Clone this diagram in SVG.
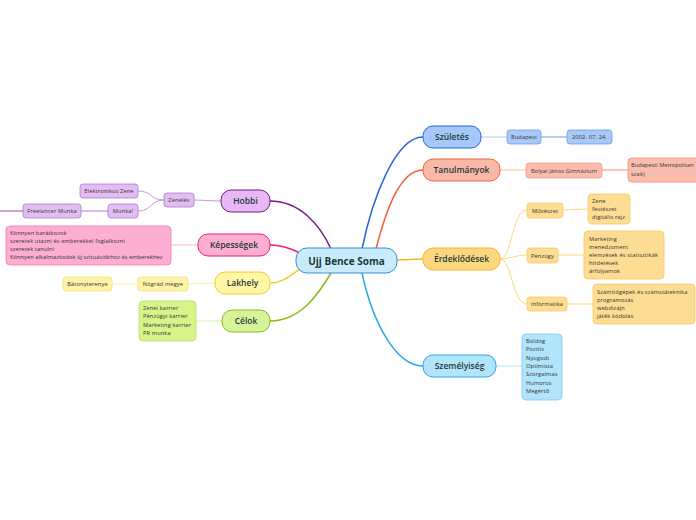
<svg xmlns="http://www.w3.org/2000/svg" width="696" height="520" viewBox="0 0 696 520">
<style>
text{font-family:"Open Sans","Noto Sans","Liberation Sans",sans-serif;}
.main{font-size:8.5px;font-weight:600;fill:#1c3a36;text-anchor:middle;}
.root{font-size:10px;font-weight:700;fill:#1c3a36;text-anchor:middle;}
.sub{font-size:5.7px;fill:#333;letter-spacing:0.12px;}
.subc{font-size:5.7px;fill:#333;text-anchor:middle;letter-spacing:0.12px;}
.c{fill:none;}
</style>
<rect width="696" height="520" fill="#fff"/>
<g id="connectors">
  <path class="c" d="M362,249 C372,200 395,137 423,137" stroke="#2767d9" stroke-width="1.5"/>
  <path class="c" d="M376,249 C386,210 400,170 423,170" stroke="#f2603a" stroke-width="1.5"/>
  <path class="c" d="M397,260 L423,259" stroke="#f7b32b" stroke-width="1.5"/>
  <path class="c" d="M362,273 C372,320 395,366 423,366" stroke="#29a7e8" stroke-width="1.5"/>
  <path class="c" d="M331,249 C320,225 300,201 270,201" stroke="#6e1f80" stroke-width="1.5"/>
  <path class="c" d="M300,253 C290,248 282,245 270,245" stroke="#f0206c" stroke-width="1.5"/>
  <path class="c" d="M300,269 C290,276 282,283 270,283" stroke="#f0d020" stroke-width="1.5"/>
  <path class="c" d="M331,273 C318,295 300,321 270,321" stroke="#88bb18" stroke-width="1.5"/>
  <path class="c" d="M481,137 L507,137" stroke="#a9c8f6" stroke-width="1"/>
  <path class="c" d="M541,137 L567,137" stroke="#6a9ce8" stroke-width="1"/>
  <path class="c" d="M500,170 L526,170" stroke="#f9bcae" stroke-width="1"/>
  <path class="c" d="M602,170 L628,170" stroke="#f5906e" stroke-width="1"/>
  <path class="c" d="M500,259 C512,259 512,210 527,210" stroke="#fdd680" stroke-width="1"/>
  <path class="c" d="M500,259 C512,259 515,255 527,255" stroke="#fdd680" stroke-width="1"/>
  <path class="c" d="M500,259 C512,259 512,304 527,304" stroke="#fdd680" stroke-width="1"/>
  <path class="c" d="M563,210 L588,209" stroke="#fdd680" stroke-width="1"/>
  <path class="c" d="M558,255 L584,255" stroke="#fdd680" stroke-width="1"/>
  <path class="c" d="M567,304 L593,304" stroke="#fdd680" stroke-width="1"/>
  <path class="c" d="M496,366 L522,366" stroke="#b2e4fb" stroke-width="1"/>
  <path class="c" d="M221,201 L194,200" stroke="#c89ad8" stroke-width="1"/>
  <path class="c" d="M164,200 C150,200 152,191 138,191" stroke="#c89ad8" stroke-width="1"/>
  <path class="c" d="M164,200 C150,200 152,211 138,211" stroke="#c89ad8" stroke-width="1"/>
  <path class="c" d="M108,211 L81,211" stroke="#b07ad0" stroke-width="1"/>
  <path class="c" d="M23,211 L0,211" stroke="#8a5aa0" stroke-width="1"/>
  <path class="c" d="M198,245 L171,245" stroke="#fdaed1" stroke-width="1"/>
  <path class="c" d="M215,283 L188,284" stroke="#fff0a0" stroke-width="1"/>
  <path class="c" d="M138,284 L112,284" stroke="#fff0a0" stroke-width="1"/>
  <path class="c" d="M222,321 L196,321" stroke="#d7f49a" stroke-width="1"/>
</g>
<g id="root">
  <rect x="296" y="248" width="101" height="25" rx="11" fill="#c9ecfc" stroke="#3a8fd0" stroke-width="1"/>
  <text class="root" x="346.5" y="264.5">Ujj Bence Soma</text>
</g>
<g id="szuletes">
  <rect x="423" y="126" width="58" height="22" rx="10" fill="#a5c8f8" stroke="#2767d9" stroke-width="1"/>
  <text class="main" x="452" y="140">Születés</text>
</g>
<g id="budapest">
  <rect x="507" y="130" width="34" height="14" rx="3" fill="#a9c8f8" stroke="#6a9ce8" stroke-width="0.8"/>
  <text class="subc" x="524" y="139">Budapest</text>
</g>
<g id="datum">
  <rect x="567" y="130" width="45" height="14" rx="3" fill="#a9c8f8" stroke="#6a9ce8" stroke-width="0.8"/>
  <text class="subc" x="589.5" y="139">2002. 07. 24.</text>
</g>
<g id="tanulmanyok">
  <rect x="423" y="159" width="77" height="22" rx="10" fill="#f9b8a8" stroke="#f2603a" stroke-width="1"/>
  <text class="main" x="461.5" y="173">Tanulmányok</text>
</g>
<g id="bolyai">
  <rect x="526" y="163" width="76" height="15" rx="3" fill="#f9bcae" stroke="#f5a088" stroke-width="0.8"/>
  <text class="subc" x="564" y="172.5">Bolyai János Gimnázium</text>
</g>
<g id="metropolitan">
  <rect x="628" y="158" width="76" height="24" rx="4" fill="#f9bcae" stroke="#f5906e" stroke-width="0.8"/>
  <text class="sub" x="631" y="167" style="letter-spacing:0">Budapesti Metropolitan</text>
  <text class="sub" x="631" y="176">szak)</text>
</g>
<g id="erdeklodesek">
  <rect x="423" y="248" width="77" height="22" rx="10" fill="#fdd680" stroke="#f7b32b" stroke-width="1"/>
  <text class="main" x="461.5" y="262">Érdeklődések</text>
</g>
<g id="muveszet">
  <rect x="527" y="203" width="36" height="15" rx="3" fill="#fddc94" stroke="#fbc860" stroke-width="0.8"/>
  <text class="subc" x="545" y="212.5">Művészet</text>
</g>
<g id="muveszet-reszlet">
  <rect x="588" y="194" width="42" height="30" rx="4" fill="#fddc94" stroke="#fbc860" stroke-width="0.8"/>
  <text class="sub" x="592" y="203">Zene</text>
  <text class="sub" x="592" y="211">festészet</text>
  <text class="sub" x="592" y="219">digitális rajz</text>
</g>
<g id="penzugy">
  <rect x="527" y="248" width="31" height="15" rx="3" fill="#fddc94" stroke="#fbc860" stroke-width="0.8"/>
  <text class="subc" x="542.5" y="257.5">Pénzügy</text>
</g>
<g id="penzugy-reszlet">
  <rect x="584" y="231" width="80" height="48" rx="4" fill="#fddc94" stroke="#fbc860" stroke-width="0.8"/>
  <text class="sub" x="589" y="241">Marketing</text>
  <text class="sub" x="589" y="249">menedzsment</text>
  <text class="sub" x="589" y="257">elemzések és statisztikák</text>
  <text class="sub" x="589" y="265">hirdetések</text>
  <text class="sub" x="589" y="273">árfolyamok</text>
</g>
<g id="informatika">
  <rect x="527" y="297" width="40" height="14" rx="3" fill="#fddc94" stroke="#fbc860" stroke-width="0.8"/>
  <text class="subc" x="547" y="306">Informatika</text>
</g>
<g id="informatika-reszlet">
  <rect x="593" y="284" width="102" height="40" rx="4" fill="#fddc94" stroke="#fbc860" stroke-width="0.8"/>
  <text class="sub" x="597" y="294">Számítógépek és számstáteknika</text>
  <text class="sub" x="597" y="302">programozás</text>
  <text class="sub" x="597" y="310">webdizájn</text>
  <text class="sub" x="597" y="318">játék kódolás</text>
</g>
<g id="szemelyiseg">
  <rect x="423" y="355" width="73" height="22" rx="10" fill="#b2e4fb" stroke="#29a7e8" stroke-width="1"/>
  <text class="main" x="459.5" y="369">Személyiség</text>
</g>
<g id="szemelyiseg-reszlet">
  <rect x="522" y="334" width="40" height="66" rx="4" fill="#b2e4fb" stroke="#7cc8f0" stroke-width="0.8"/>
  <text class="sub" x="526" y="343">Boldog</text>
  <text class="sub" x="526" y="351.3">Pozitív</text>
  <text class="sub" x="526" y="359.6">Nyugodt</text>
  <text class="sub" x="526" y="367.9">Optimista</text>
  <text class="sub" x="526" y="376.2">Szorgalmas</text>
  <text class="sub" x="526" y="384.5">Humoros</text>
  <text class="sub" x="526" y="392.8">Megértő</text>
</g>
<g id="hobbi">
  <rect x="221" y="190" width="49" height="22" rx="10" fill="#e9b7f5" stroke="#6e1f80" stroke-width="1"/>
  <text class="main" x="245.5" y="204">Hobbi</text>
</g>
<g id="zeneles">
  <rect x="164" y="193" width="30" height="14" rx="3" fill="#e1bdf0" stroke="#b07ad0" stroke-width="0.8"/>
  <text class="subc" x="179" y="202">Zenélés</text>
</g>
<g id="elektronikus-zene">
  <rect x="80" y="184" width="58" height="14" rx="3" fill="#e1bdf0" stroke="#b07ad0" stroke-width="0.8"/>
  <text class="subc" x="109" y="193">Elektronikus Zene</text>
</g>
<g id="munka">
  <rect x="108" y="204" width="30" height="14" rx="3" fill="#e1bdf0" stroke="#b07ad0" stroke-width="0.8"/>
  <text class="subc" x="123" y="213">Munka!</text>
</g>
<g id="freelancer">
  <rect x="23" y="204" width="58" height="14" rx="3" fill="#e1bdf0" stroke="#b07ad0" stroke-width="0.8"/>
  <text class="subc" x="52" y="213">Freelancer Munka</text>
</g>
<g id="kepessegek">
  <rect x="198" y="234" width="72" height="22" rx="10" fill="#fdaed1" stroke="#f0206c" stroke-width="1"/>
  <text class="main" x="234" y="248">Képességek</text>
</g>
<g id="kepessegek-reszlet">
  <rect x="6" y="226" width="165" height="39" rx="4" fill="#fdaed1" stroke="#f27aae" stroke-width="0.8"/>
  <text class="sub" x="10" y="235">Könnyen barátkozok</text>
  <text class="sub" x="10" y="243">szeretek utazni és emberekkel foglalkozni</text>
  <text class="sub" x="10" y="251">szeretek tanulni</text>
  <text class="sub" x="10" y="259" style="letter-spacing:0.05px">Könnyen alkalmazkodok új szituációkhoz és emberekhez</text>
</g>
<g id="lakhely">
  <rect x="215" y="272" width="55" height="22" rx="10" fill="#fff6a8" stroke="#f0d020" stroke-width="1"/>
  <text class="main" x="242.5" y="286">Lakhely</text>
</g>
<g id="nograd">
  <rect x="138" y="277" width="50" height="14" rx="3" fill="#fff3a8" stroke="#f3e07a" stroke-width="0.8"/>
  <text class="subc" x="163" y="286">Nógrád megye</text>
</g>
<g id="batonyterenye">
  <rect x="63" y="277" width="49" height="14" rx="3" fill="#fff3a8" stroke="#f3e07a" stroke-width="0.8"/>
  <text class="subc" x="87.5" y="286">Bátonyterenye</text>
</g>
<g id="celok">
  <rect x="222" y="310" width="48" height="22" rx="10" fill="#d7f49a" stroke="#88bb18" stroke-width="1"/>
  <text class="main" x="246" y="324">Célok</text>
</g>
<g id="celok-reszlet">
  <rect x="139" y="301" width="57" height="40" rx="4" fill="#d7f48a" stroke="#b5e060" stroke-width="0.8"/>
  <text class="sub" x="143" y="310">Zenei karrier</text>
  <text class="sub" x="143" y="318.3">Pénzügyi karrier</text>
  <text class="sub" x="143" y="326.6">Marketing karrier</text>
  <text class="sub" x="143" y="334.9">PR munka</text>
</g>
</svg>
